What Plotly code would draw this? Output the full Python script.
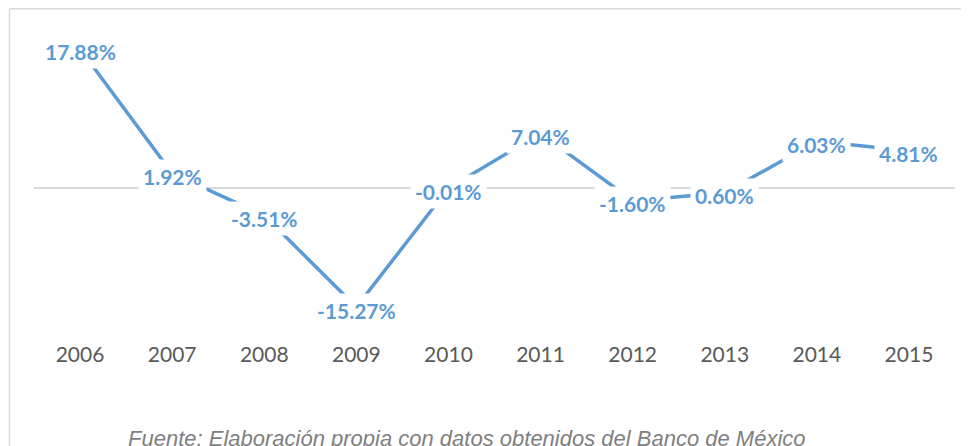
import plotly.graph_objects as go

years = [2006, 2007, 2008, 2009, 2010, 2011, 2012, 2013, 2014, 2015]
values = [17.88, 1.92, -3.51, -15.27, -0.01, 7.04, -1.60, -0.60, 6.03, 4.81]
labels = ["17.88%", "1.92%", "-3.51%", "-15.27%", "-0.01%", "7.04%", "-1.60%", "0.60%", "6.03%", "4.81%"]
source = "Fuente: Elaboración propia con datos obtenidos del Banco de México"

# the page places the figure 8px from the top-left corner of the window
OFF = 8
W, H = 961, 438
ML, MR, MT, MB = 26, 14, 12, 106
PW = W - ML - MR
PH = H - MT - MB

def px(x):
    return (x - OFF - ML) / PW

def py(y):
    return (H - MB - (y - OFF)) / PH

blue = "#5B9BD5"

fig = go.Figure()
fig.add_trace(go.Scatter(
    x=years, y=values, mode="lines",
    line=dict(color=blue, width=3.5),
    hoverinfo="skip", showlegend=False,
))

annotations = []
for yr, v, t in zip(years, values, labels):
    annotations.append(dict(
        x=yr, y=v, xref="x", yref="y", text="<b>%s</b>" % t,
        showarrow=False, bgcolor="white", borderpad=4,
        font=dict(family="Lato", size=21, color=blue),
        yshift=-3,
    ))

annotations.append(dict(
    x=px(467), y=py(438.5), xref="paper", yref="paper",
    text="<i>%s</i>" % source, showarrow=False,
    xanchor="center", yanchor="middle",
    font=dict(family="Liberation Sans", size=22, color="#7F7F7F"),
))

fig.update_layout(
    width=W, height=H,
    margin=dict(l=ML, r=MR, t=MT, b=MB),
    paper_bgcolor="white", plot_bgcolor="white",
    annotations=annotations,
    xaxis=dict(
        range=[years[0] - 0.5, years[-1] + 0.5],
        tickvals=years, ticktext=[str(y) for y in years],
        showgrid=False, zeroline=False, showline=False,
        ticks="", tickfont=dict(family="Lato", size=21, color="#595959"),
        fixedrange=True,
    ),
    yaxis=dict(
        range=[-19.5, 21.6], showgrid=False, showticklabels=False,
        zeroline=True, zerolinecolor="#D9D9D9", zerolinewidth=1.5,
        showline=False, ticks="", fixedrange=True,
    ),
    shapes=[
        dict(type="line", xref="paper", yref="paper",
             x0=px(9.5), x1=px(9.5), y0=py(8.75), y1=py(460),
             line=dict(color="#D9D9D9", width=1.5), layer="below"),
        dict(type="line", xref="paper", yref="paper",
             x0=px(9.5), x1=px(980), y0=py(8.75), y1=py(8.75),
             line=dict(color="#D9D9D9", width=1.5), layer="below"),
    ],
)

fig.write_html("out.html")
